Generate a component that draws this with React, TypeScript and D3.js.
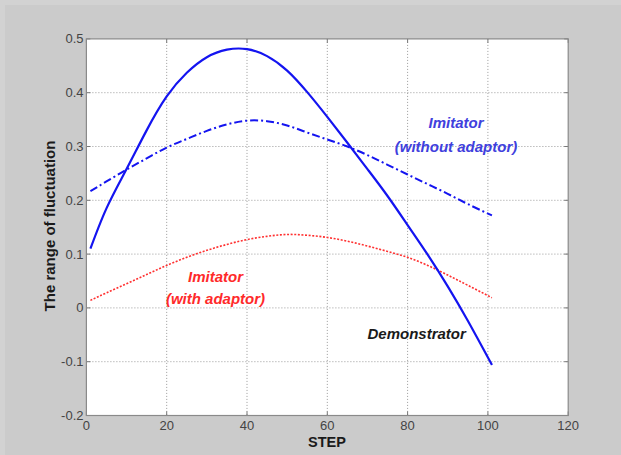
import React from "react";
import * as d3 from "d3";

const steps = [1, 5, 10, 15, 20, 25, 30, 35, 40, 45, 50, 55, 60, 65, 70, 75, 80, 85, 90, 95, 101];
const demonstrator = [0.110, 0.185, 0.258, 0.330, 0.393, 0.437, 0.466, 0.480, 0.481, 0.468, 0.441, 0.401, 0.355, 0.307, 0.258, 0.208, 0.154, 0.099, 0.040, -0.024, -0.106];
const imitatorWithout = [0.217, 0.235, 0.257, 0.278, 0.298, 0.314, 0.329, 0.341, 0.348, 0.347, 0.339, 0.326, 0.313, 0.300, 0.284, 0.266, 0.248, 0.230, 0.212, 0.193, 0.172];
const imitatorWith = [0.014, 0.028, 0.045, 0.062, 0.079, 0.094, 0.107, 0.118, 0.127, 0.133, 0.1365, 0.135, 0.131, 0.124, 0.115, 0.105, 0.094, 0.079, 0.061, 0.042, 0.019];
const xTicks = [0, 20, 40, 60, 80, 100, 120];
const yTicks = [-0.2, -0.1, 0, 0.1, 0.2, 0.3, 0.4, 0.5];
const xLabel = "STEP";
const yLabel = "The range of fluctuation";

const W = 621, H = 455;
const L = 86.4, R = 568.2, T = 38.9, B = 415.5;

export default function App() {
  const x = d3.scaleLinear().domain([0, 120]).range([L, R]);
  const y = d3.scaleLinear().domain([-0.2, 0.5]).range([B, T]);
  const line = (vals: number[]) =>
    d3.line<number>().x((_, i) => x(steps[i])).y((v) => y(v)).curve(d3.curveNatural)(vals) || "";
  const font = "Arial, 'Liberation Sans', sans-serif";
  const fmt = (v: number) => (Math.abs(v) < 1e-9 ? "0" : String(Math.round(v * 10) / 10));
  return (
    <svg width={W} height={H} style={{ position: "absolute", left: 0, top: 0, display: "block" }} fontFamily={font}>
      <rect x={0} y={0} width={W} height={H} fill="#d2d2d2" />
      <rect x={5} y={5} width={W - 5} height={H - 5} fill="#cbcbcb" />
      <rect x={L} y={T} width={R - L} height={B - T} fill="#ffffff" />
      {xTicks.slice(1, -1).map((t) => (
        <line key={"gx" + t} x1={x(t)} x2={x(t)} y1={T} y2={B} stroke="#9a9a9a" strokeWidth={1} strokeDasharray="1 2" />
      ))}
      {yTicks.slice(1, -1).map((t) => (
        <line key={"gy" + t} x1={L} x2={R} y1={y(t)} y2={y(t)} stroke="#9a9a9a" strokeWidth={1} strokeDasharray="1 2" />
      ))}
      {xTicks.map((t) => (
        <g key={"tx" + t}>
          <line x1={x(t)} x2={x(t)} y1={B} y2={B - 4} stroke="#777" />
          <line x1={x(t)} x2={x(t)} y1={T} y2={T + 4} stroke="#777" />
          <text x={x(t)} y={429.5} textAnchor="middle" fontSize={13} fill="#444">{fmt(t)}</text>
        </g>
      ))}
      {yTicks.map((t) => (
        <g key={"ty" + t}>
          <line x1={L} x2={L + 4} y1={y(t)} y2={y(t)} stroke="#777" />
          <line x1={R} x2={R - 4} y1={y(t)} y2={y(t)} stroke="#777" />
          <text x={83.5} y={y(t) + 4.5} textAnchor="end" fontSize={13} fill="#444">{fmt(t)}</text>
        </g>
      ))}
      <rect x={L} y={T} width={R - L} height={B - T} fill="none" stroke="#8a8a8a" strokeWidth={1.2} />
      <path d={line(imitatorWith)} fill="none" stroke="#ff3030" strokeWidth={1.6} strokeDasharray="2 1.6" />
      <path d={line(imitatorWithout)} fill="none" stroke="#1414f0" strokeWidth={2} strokeDasharray="8 3 2 3" />
      <path d={line(demonstrator)} fill="none" stroke="#1414f0" strokeWidth={2.2} />
      <text x={456} y={128} textAnchor="middle" fontSize={15} fontWeight="bold" fontStyle="italic" fill="#4040dd">Imitator</text>
      <text x={456} y={151.5} textAnchor="middle" fontSize={15} fontWeight="bold" fontStyle="italic" fill="#4040dd">(without adaptor)</text>
      <text x={215.5} y={281.5} textAnchor="middle" fontSize={15} fontWeight="bold" fontStyle="italic" fill="#ff2a2a">Imitator</text>
      <text x={215.5} y={304} textAnchor="middle" fontSize={15} fontWeight="bold" fontStyle="italic" fill="#ff2a2a">(with adaptor)</text>
      <text x={416.7} y={338.5} textAnchor="middle" fontSize={15} fontWeight="bold" fontStyle="italic" fill="#1a1a1a">Demonstrator</text>
      <text x={327} y={446.5} textAnchor="middle" fontSize={14.5} fontWeight="bold" fill="#1a1a1a">{xLabel}</text>
      <text transform={`translate(55,226) rotate(-90)`} textAnchor="middle" fontSize={15} fontWeight="bold" fill="#1a1a1a">{yLabel}</text>
    </svg>
  );
}
